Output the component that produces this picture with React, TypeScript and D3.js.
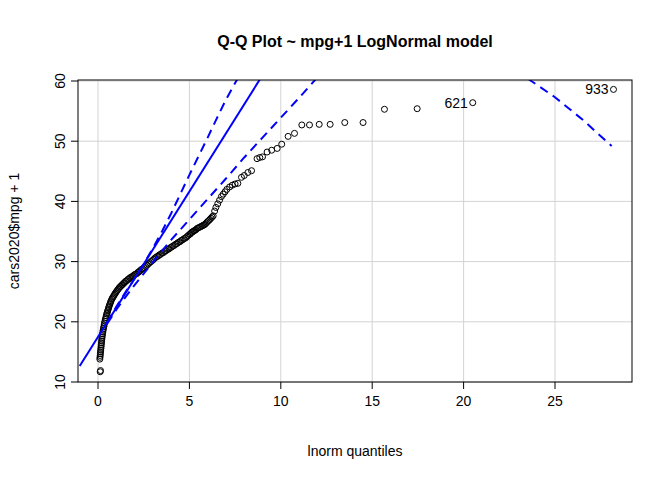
import React from 'react';
import * as d3 from 'd3';

const qx = [0.12, 0.14, 0.1, 0.11, 0.12, 0.13, 0.14, 0.15, 0.16, 0.17, 0.18, 0.19, 0.2, 0.21, 0.22, 0.235, 0.25, 0.265, 0.28, 0.3,
  0.32, 0.34, 0.36, 0.38, 0.4, 0.43, 0.45, 0.48, 0.5, 0.53, 0.55, 0.58, 0.6, 0.63, 0.66, 0.69, 0.72, 0.76, 0.8, 0.84,
  0.88, 0.92, 0.96, 1.0, 1.05, 1.1, 1.15, 1.2, 1.25, 1.3, 1.35, 1.4, 1.45, 1.5, 1.56, 1.62, 1.68, 1.74, 1.8, 1.86,
  1.92, 1.98, 2.05, 2.12, 2.18, 2.24, 2.3, 2.38, 2.45, 2.52, 2.6, 2.68, 2.75, 2.82, 2.9, 2.98, 3.05, 3.12, 3.2, 3.28,
  3.35, 3.42, 3.5, 3.58, 3.65, 3.72, 3.8, 3.88, 3.95, 4.02, 4.1, 4.18, 4.25, 4.32, 4.4, 4.48, 4.55, 4.62, 4.7, 4.78,
  4.85, 4.92, 5.0, 5.05, 5.1, 5.15, 5.2, 5.25, 5.3, 5.36, 5.42, 5.48, 5.55, 5.62, 5.68, 5.74, 5.8, 5.86, 5.92, 5.98,
  6.05, 6.12, 6.18, 6.24, 6.3, 6.38, 6.45, 6.55, 6.65, 6.75, 6.85, 6.95, 7.05, 7.2, 7.35, 7.5, 7.65, 7.85, 8.0, 8.2,
  8.4, 8.7, 8.85, 9.0, 9.25, 9.5, 9.8, 10.05, 10.4, 10.75, 11.15, 11.57, 12.1, 12.7, 13.5, 14.5, 15.67, 17.46, 20.5, 28.2];
const qy = [11.7, 11.9, 13.8, 14.1, 14.4, 14.7, 15.0, 15.3, 15.6, 15.9, 16.2, 16.5, 16.8, 17.1, 17.4, 17.7, 18.0, 18.3, 18.6, 18.9,
  19.2, 19.5, 19.8, 20.1, 20.4, 20.7, 21.0, 21.3, 21.5, 21.8, 22.0, 22.3, 22.5, 22.8, 23.0, 23.3, 23.5, 23.8, 24.0, 24.2,
  24.4, 24.6, 24.8, 25.0, 25.2, 25.4, 25.6, 25.8, 25.9, 26.1, 26.2, 26.4, 26.5, 26.7, 26.8, 27.0, 27.1, 27.3, 27.4, 27.5,
  27.6, 27.8, 27.9, 28.0, 28.2, 28.3, 28.5, 28.7, 28.8, 29.0, 29.2, 29.4, 29.6, 29.8, 30.0, 30.2, 30.4, 30.6, 30.8, 30.9,
  31.1, 31.2, 31.4, 31.5, 31.7, 31.8, 32.0, 32.1, 32.3, 32.4, 32.6, 32.7, 32.9, 33.0, 33.2, 33.3, 33.5, 33.6, 33.8, 33.9,
  34.1, 34.3, 34.5, 34.6, 34.8, 34.9, 35.0, 35.1, 35.2, 35.3, 35.5, 35.6, 35.7, 35.8, 35.9, 36.0, 36.1, 36.2, 36.4, 36.6,
  36.8, 37.0, 37.2, 37.4, 37.6, 38.4, 39.0, 39.6, 40.2, 40.8, 41.2, 41.6, 42.0, 42.4, 42.7, 42.9, 43.0, 44.0, 44.3, 44.8,
  45.1, 47.1, 47.3, 47.4, 48.2, 48.5, 48.8, 49.5, 50.8, 51.3, 52.7, 52.7, 52.8, 52.8, 53.1, 53.1, 55.3, 55.4, 56.4, 58.6];
const labelled = [{ id: '621', x: 20.5, y: 56.4 }, { id: '933', x: 28.2, y: 58.6 }];

// reference line and confidence envelope
const lineX = [-1, 30];
const lineY = [12.67, 162.4];
const upperX = [0.5, 1, 1.5, 2, 2.5, 3, 3.5, 4, 4.5, 5, 5.5, 6, 6.5, 7, 7.6, 8.2];
const upperY = [19.9, 22.5, 24.9, 27.2, 29.6, 32.2, 35.0, 38.0, 41.2, 44.4, 47.5, 50.6, 53.8, 56.9, 60.2, 63.5];
const lowerX = [0.5, 1, 1.5, 2, 2.5, 3, 3.5, 4, 5, 6, 7, 8, 9, 10, 11, 12, 14, 17, 20, 22, 23.7, 25, 26.5, 28.1];
const lowerY = [19.7, 22.0, 24.1, 26.1, 28.0, 29.9, 31.8, 33.6, 37.0, 40.4, 43.8, 47.3, 50.6, 53.9, 57.2, 60.6, 66.0, 70.5, 68.0, 63.8, 60.0, 57.3, 53.6, 49.2];

const xTicks = [0, 5, 10, 15, 20, 25];
const yTicks = [10, 20, 30, 40, 50, 60];

const W = 672, H = 480;
const L = 78, R = 632, T = 80, B = 382;

export default function App() {
  const x = d3.scaleLinear().domain([0, 25]).range([98, 555]);
  const y = d3.scaleLinear().domain([10, 60]).range([B, 81]);
  const font = '"Liberation Sans", Arial, sans-serif';
  const pathOf = (xs: number[], ys: number[]) =>
    d3.line<number>().x((_, i) => x(xs[i])).y((d) => y(d))(ys) || '';

  return (
    <svg width={W} height={H} style={{ display: 'block', margin: '-8px' }} fontFamily={font}>
      <rect width={W} height={H} fill="#fff" />
      <defs>
        <clipPath id="pc"><rect x={L} y={T} width={R - L} height={B - T} /></clipPath>
      </defs>
      {xTicks.map((t) => <line key={'gx' + t} x1={x(t)} x2={x(t)} y1={T} y2={B} stroke="#d3d3d3" />)}
      {yTicks.map((t) => <line key={'gy' + t} x1={L} x2={R} y1={y(t)} y2={y(t)} stroke="#d3d3d3" />)}
      <g clipPath="url(#pc)">
        {qx.map((d, i) => <circle key={i} cx={x(d)} cy={y(qy[i])} r={3} fill="none" stroke="#000" strokeWidth={1} />)}
        <path d={pathOf(lineX, lineY)} stroke="#0000ff" strokeWidth={2} fill="none" />
        <path d={pathOf(upperX, upperY)} stroke="#0000ff" strokeWidth={2} fill="none" strokeDasharray="9,6" />
        <path d={pathOf(lowerX, lowerY)} stroke="#0000ff" strokeWidth={2} fill="none" strokeDasharray="9,6" />
      </g>
      {labelled.map((p) => (
        <text key={p.id} x={x(p.x) - 5} y={y(p.y) + 5} textAnchor="end" fontSize={14}>{p.id}</text>
      ))}
      <rect x={L} y={T} width={R - L} height={B - T} fill="none" stroke="#000" />
      {xTicks.map((t) => (
        <g key={'xt' + t}>
          <line x1={x(t)} x2={x(t)} y1={B} y2={B + 7} stroke="#000" />
          <text x={x(t)} y={B + 24} textAnchor="middle" fontSize={14}>{t}</text>
        </g>
      ))}
      {yTicks.map((t) => (
        <g key={'yt' + t}>
          <line x1={L} x2={L - 7} y1={y(t)} y2={y(t)} stroke="#000" />
          <text transform={`translate(${L - 13},${y(t)}) rotate(-90)`} textAnchor="middle" fontSize={14}>{t}</text>
        </g>
      ))}
      <text x={355} y={47} textAnchor="middle" fontSize={16} fontWeight="bold">Q-Q Plot ~ mpg+1 LogNormal model</text>
      <text x={355} y={456} textAnchor="middle" fontSize={14}>lnorm quantiles</text>
      <text transform={`translate(19,231) rotate(-90)`} textAnchor="middle" fontSize={14}>cars2020$mpg + 1</text>
    </svg>
  );
}
